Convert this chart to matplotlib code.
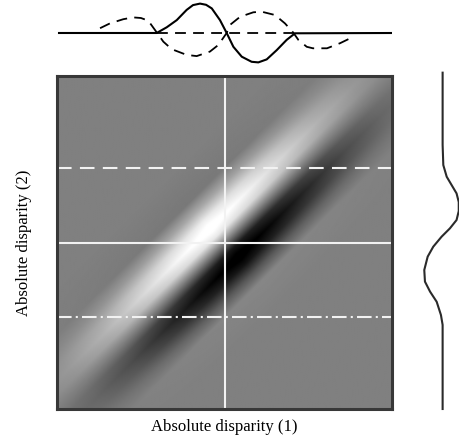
#!/usr/bin/env python3
"""
Disparity receptive field in (d1, d2) space with its two profile slices.
"""

import numpy as np
import matplotlib
matplotlib.use("Agg")
import matplotlib.pyplot as plt

# cross-section of the oriented band (perpendicular to the diagonal)
band_offset = [-0.5, -0.4, -0.32, -0.25, -0.18, -0.12, -0.06, 0.0,
               0.06, 0.12, 0.18, 0.25, 0.32, 0.4, 0.5]
band_value = [0.0, 0.03, 0.05, -0.3, -0.78, -1.0, -0.75, 0.0,
              0.75, 1.0, 0.78, 0.3, -0.05, -0.03, 0.0]

# gain along the diagonal
axis_pos = [-1.5, -1.2, -0.9, -0.6, -0.3, 0.0, 0.3, 0.6, 0.9, 1.2, 1.5]
axis_gain = [0.08, 0.2, 0.4, 0.67, 0.92, 1.1, 0.92, 0.67, 0.4, 0.2, 0.08]

# top panel: solid slice along d2 = 0
top_solid_x = [-0.988, -0.405, -0.345, -0.285, -0.226, -0.188, -0.146, -0.110,
               -0.076, -0.027, 0.013, 0.053, 0.103, 0.162, 0.202, 0.252,
               0.312, 0.371, 0.421, 1.006]
top_solid_y = [0.0, 0.0, 0.19, 0.43, 0.77, 0.93, 0.98, 0.94,
               0.82, 0.43, 0.0, -0.46, -0.79, -0.96, -0.98, -0.88,
               -0.57, -0.23, -0.01, 0.0]

# top panel: dashed wave and dashed baseline
top_dash_x = [-0.743, -0.684, -0.604, -0.545, -0.499, -0.455, -0.415, -0.365,
              -0.315, -0.226, -0.166, -0.087, -0.037, 0.013, 0.033, 0.093,
              0.172, 0.222, 0.301, 0.361, 0.411, 0.441, 0.491, 0.528,
              0.612, 0.690, 0.749]
top_dash_y = [0.16, 0.32, 0.46, 0.52, 0.50, 0.41, 0.10, -0.29,
              -0.54, -0.73, -0.77, -0.62, -0.40, 0.0, 0.27, 0.54,
              0.69, 0.71, 0.60, 0.32, 0.01, -0.23, -0.46, -0.51,
              -0.51, -0.34, -0.18]
dash_base_x = [-0.405, 0.421]

# right panel: slice along d1 = 0
right_d2 = [1.02, 0.586, 0.465, 0.395, 0.345, 0.295, 0.243, 0.189,
            0.135, 0.085, 0.035, -0.025, -0.085, -0.165, -0.235, -0.295,
            -0.356, -0.435, -0.495, -1.0]
right_amp = [0.0, 0.0, 0.04, 0.24, 0.53, 0.82, 0.95, 0.95,
             0.82, 0.43, -0.06, -0.55, -0.88, -1.08, -1.04, -0.74,
             -0.35, -0.10, 0.0, 0.0]

# white guide lines on the map
guide_d2 = [0.45, 0.0, -0.45]

W, H = 459, 445
fig = plt.figure(figsize=(W / 100, H / 100), dpi=100)
plt.rcParams['font.family'] = 'Liberation Serif'

# main map
ax = fig.add_axes([57 / W, (H - 409) / H, 335 / W, 333 / H])
g = np.linspace(-1, 1, 500)
d1, d2 = np.meshgrid(g, g)
u = (d1 + d2) / np.sqrt(2)
v = (d2 - d1) / np.sqrt(2)
img = np.interp(v, band_offset, band_value) * np.interp(u, axis_pos, axis_gain)
ax.imshow(img, cmap='gray', vmin=-1, vmax=1, origin='lower',
          extent=[-1, 1, -1, 1], interpolation='bilinear', aspect='auto')
ax.axvline(0, color='#f2f2f2', lw=1.5)
ax.axhline(guide_d2[1], color='#f2f2f2', lw=1.5)
ax.axhline(guide_d2[0], color='#f2f2f2', lw=1.5, dashes=(7, 4))
ax.axhline(guide_d2[2], color='#f2f2f2', lw=1.5, dashes=(7, 2, 1, 2))
ax.set_xlim(-1, 1)
ax.set_ylim(-1, 1)
ax.set_xticks([])
ax.set_yticks([])
for s in ax.spines.values():
    s.set_color('#383838')
    s.set_linewidth(2.2)
ax.set_xlabel('Absolute disparity (1)', fontsize=12, labelpad=7)
ax.set_ylabel('Absolute disparity (2)', fontsize=12, labelpad=18)

# top profile
axt = fig.add_axes([57 / W, (H - 68) / H, 335 / W, 68 / H])
axt.plot(top_solid_x, top_solid_y, color='black', lw=1.5,
         solid_joinstyle='round')
axt.plot(top_dash_x, top_dash_y, color='black', lw=1.3, dashes=(6, 4))
axt.plot(dash_base_x, [0, 0], color='black', lw=1.3, dashes=(6, 4))
axt.set_xlim(-1, 1)
axt.set_ylim(-1.167, 1.1)
axt.axis('off')

# right profile
axr = fig.add_axes([422 / W, (H - 409) / H, 37 / W, 333 / H])
axr.plot(right_amp, right_d2, color='#2a2a2a', lw=1.5, clip_on=False,
         solid_joinstyle='round')
axr.set_xlim(-1.214, 0.964)
axr.set_ylim(-1, 1)
axr.axis('off')

fig.savefig('out.png', dpi=100)
